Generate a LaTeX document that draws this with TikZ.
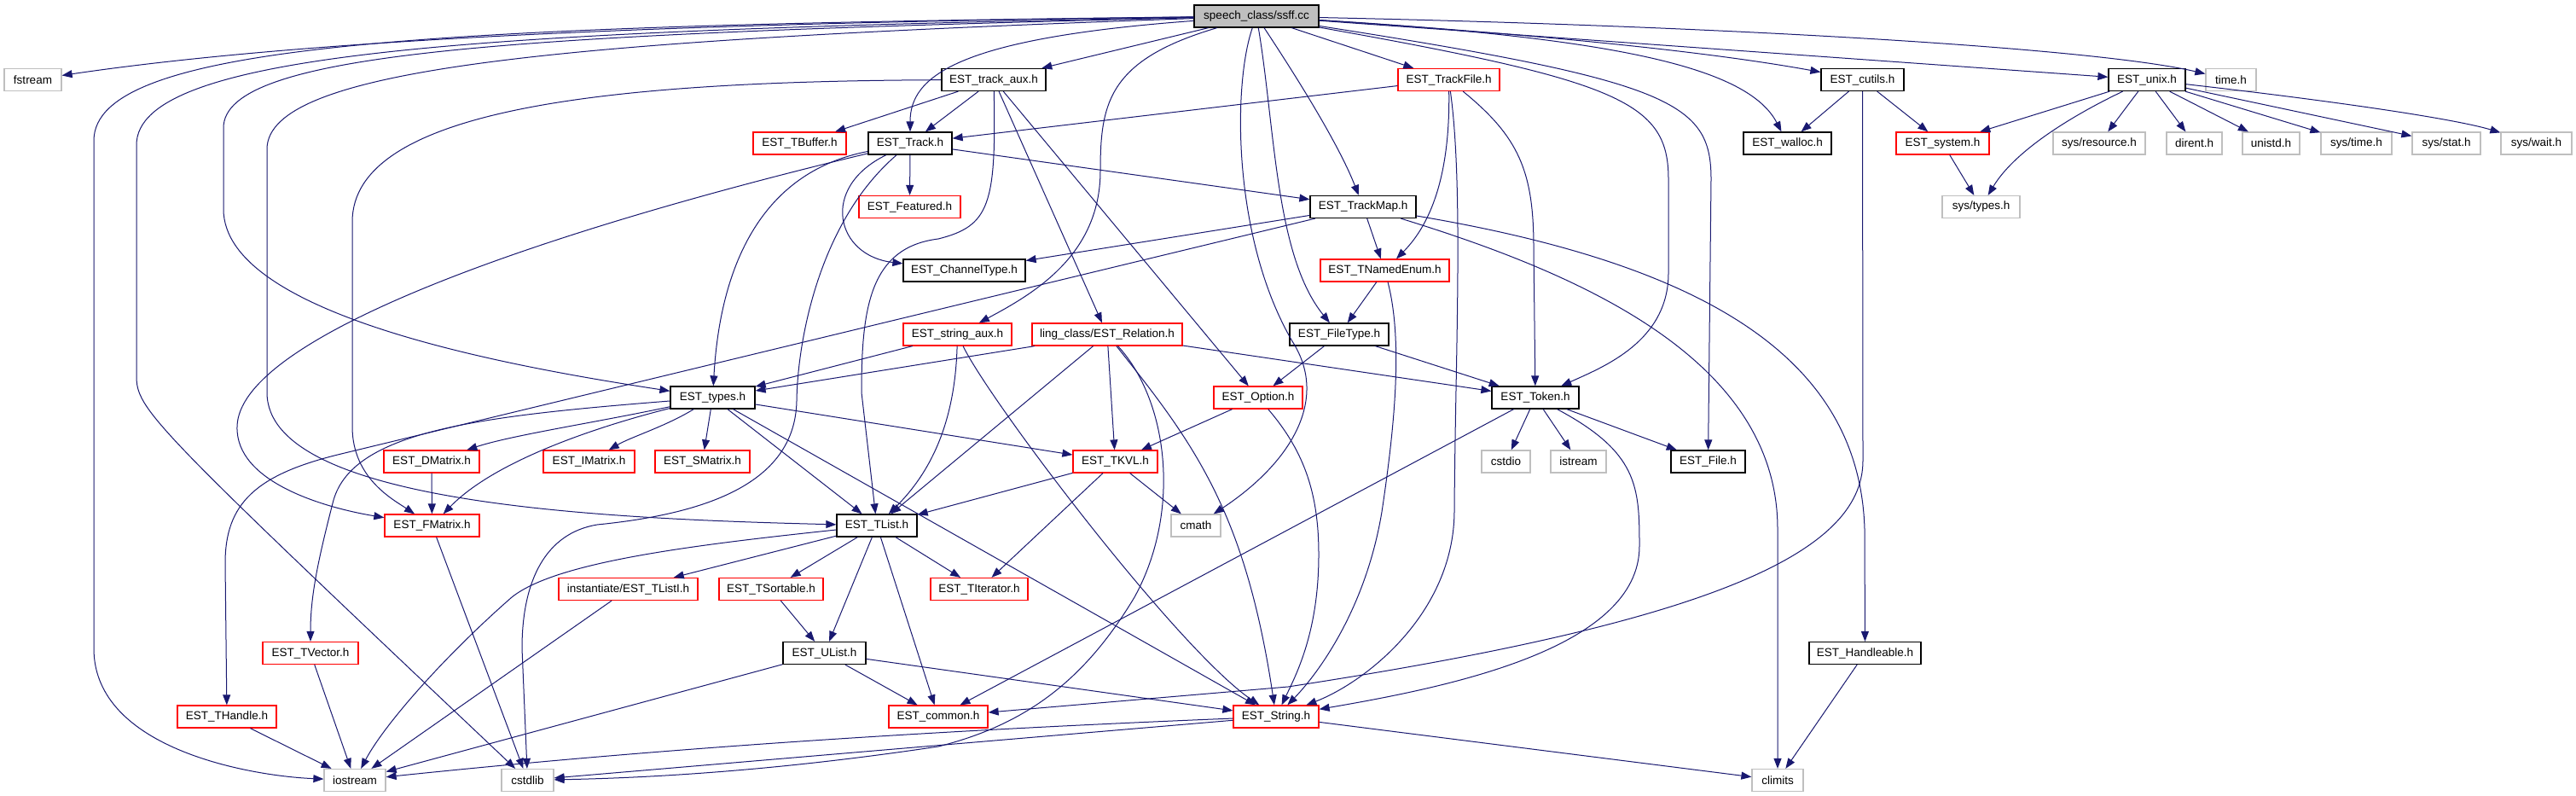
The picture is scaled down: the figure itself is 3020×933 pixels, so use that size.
\documentclass[tikz,border=0pt]{standalone}
\usepackage{fontspec}
\setmainfont{Liberation Sans}
\usetikzlibrary{arrows.meta}
\definecolor{edgec}{HTML}{191970}
\definecolor{grayb}{HTML}{BFBFBF}
\tikzset{
  nb/.style={rectangle, minimum height=26pt, inner sep=0pt, line width=1.25pt, font=\fontsize{13.5}{16}\selectfont, text=black},
  blk/.style={nb, draw=black},
  rnd/.style={nb, draw=red},
  gry/.style={nb, draw=grayb},
  rootn/.style={nb, draw=black, fill=grayb},
  ed/.style={draw=edgec, line width=1pt, -{Triangle[length=12pt,width=9pt]}},
}
\begin{document}
\begin{tikzpicture}[x=1pt,y=-1pt]
\useasboundingbox (0,0) rectangle (3020,933);
\fill[white] (0,0) rectangle (3020,933);
% row 0
\node[rootn, minimum width=146pt] (root) at (1473,19) {speech\_class/ssff.cc};
% row 1
\node[gry, minimum width=67pt] (fstream) at (38.5,93.5) {fstream};
\node[blk, minimum width=122pt] (trackaux) at (1165,93.5) {EST\_track\_aux.h};
\node[rnd, minimum width=119pt] (trackfile) at (1698.5,93.5) {EST\_TrackFile.h};
\node[blk, minimum width=97pt] (cutils) at (2183.5,93.5) {EST\_cutils.h};
\node[blk, minimum width=90pt] (unix) at (2517,93.5) {EST\_unix.h};
\node[gry, minimum width=59pt] (timeh) at (2615.5,93.5) {time.h};
% row 2
\node[rnd, minimum width=109pt] (tbuffer) at (937.5,168) {EST\_TBuffer.h};
\node[blk, minimum width=98pt] (track) at (1067,168) {EST\_Track.h};
\node[blk, minimum width=103pt] (walloc) at (2095.5,168) {EST\_walloc.h};
\node[rnd, minimum width=109pt] (system) at (2277.5,168) {EST\_system.h};
\node[gry, minimum width=108pt] (sysres) at (2461,168) {sys/resource.h};
\node[gry, minimum width=65pt] (dirent) at (2572.5,168) {dirent.h};
\node[gry, minimum width=67pt] (unistd) at (2662.5,168) {unistd.h};
\node[gry, minimum width=83pt] (systime) at (2762.5,168) {sys/time.h};
\node[gry, minimum width=80pt] (sysstat) at (2868,168) {sys/stat.h};
\node[gry, minimum width=83pt] (syswait) at (2973.5,168) {sys/wait.h};
% row 3
\node[rnd, minimum width=119pt] (featured) at (1066.5,242.5) {EST\_Featured.h};
\node[blk, minimum width=124pt] (trackmap) at (1598,242.5) {EST\_TrackMap.h};
\node[gry, minimum width=91pt] (systypes) at (2322.5,242.5) {sys/types.h};
% row 4
\node[blk, minimum width=143pt] (channel) at (1130.5,317) {EST\_ChannelType.h};
\node[rnd, minimum width=151pt] (namedenum) at (1623.5,317) {EST\_TNamedEnum.h};
% row 5
\node[rnd, minimum width=127pt] (straux) at (1122.5,392) {EST\_string\_aux.h};
\node[rnd, minimum width=176pt] (relation) at (1298,392) {ling\_class/EST\_Relation.h};
\node[blk, minimum width=116pt] (filetype) at (1570,392) {EST\_FileType.h};
% row 6
\node[blk, minimum width=99pt] (types) at (835.5,466) {EST\_types.h};
\node[rnd, minimum width=104pt] (option) at (1475,466) {EST\_Option.h};
\node[blk, minimum width=102pt] (token) at (1800,466) {EST\_Token.h};
% row 7
\node[rnd, minimum width=112pt] (dmatrix) at (506,541) {EST\_DMatrix.h};
\node[rnd, minimum width=107pt] (imatrix) at (690.5,541) {EST\_IMatrix.h};
\node[rnd, minimum width=111pt] (smatrix) at (823.5,541) {EST\_SMatrix.h};
\node[rnd, minimum width=99pt] (tkvl) at (1307.5,541) {EST\_TKVL.h};
\node[gry, minimum width=57pt] (cstdio) at (1765.5,541) {cstdio};
\node[gry, minimum width=65pt] (istream) at (1850.5,541) {istream};
\node[blk, minimum width=87pt] (estfile) at (2002.5,541) {EST\_File.h};
% row 8
\node[rnd, minimum width=111pt] (fmatrix) at (506.5,616) {EST\_FMatrix.h};
\node[blk, minimum width=94pt] (tlist) at (1028,616) {EST\_TList.h};
\node[gry, minimum width=58pt] (cmath) at (1402,616) {cmath};
% row 9
\node[rnd, minimum width=163pt] (tlisti) at (736.5,690.5) {instantiate/EST\_TListI.h};
\node[rnd, minimum width=122pt] (tsortable) at (904,690.5) {EST\_TSortable.h};
\node[rnd, minimum width=114pt] (titerator) at (1148,690.5) {EST\_TIterator.h};
% row 10
\node[rnd, minimum width=112pt] (tvector) at (364,765.5) {EST\_TVector.h};
\node[blk, minimum width=97pt] (ulist) at (966.5,765.5) {EST\_UList.h};
\node[blk, minimum width=131pt] (handleable) at (2186.5,765.5) {EST\_Handleable.h};
% row 11
\node[rnd, minimum width=116pt] (thandle) at (266,840) {EST\_THandle.h};
\node[rnd, minimum width=116pt] (common) at (1100,840) {EST\_common.h};
\node[rnd, minimum width=100pt] (string) at (1496,840) {EST\_String.h};
% row 12
\node[gry, minimum width=72pt] (iostream) at (416,914.5) {iostream};
\node[gry, minimum width=61pt] (cstdlib) at (618.5,914.5) {cstdlib};
\node[gry, minimum width=60pt] (climits) at (2084,914.5) {climits};

% ---- edges from root
\draw[ed] (root) .. controls (900,26) and (400,40) .. (fstream);
\draw[ed] (root) .. controls (500,30) and (110,50) .. (110,165) -- (110,760) .. controls (110,880) and (300,910) .. (iostream);
\draw[ed] (root) .. controls (560,36) and (160,60) .. (160,170) -- (160,440) .. controls (160,480) and (175,495) .. (cstdlib);
\draw[ed] (root) .. controls (600,40) and (262,60) .. (262,150) -- (262,245) .. controls (262,370) and (600,430) .. (types);
\draw[ed] (root) .. controls (650,48) and (313,80) .. (313,175) -- (313,460) .. controls (313,590) and (700,608) .. (tlist);
\draw[ed] (root) -- (trackaux);
\draw[ed] (root) .. controls (1120,45) and (1067,90) .. (track);
\draw[ed] (root) .. controls (1300,70) and (1290,120) .. (1290,200) .. controls (1290,300) and (1210,345) .. (straux);
\draw[ed] (root) .. controls (1445,100) and (1445,280) .. (1515,400) .. controls (1560,470) and (1510,545) .. (cmath);
\draw[ed] (root) .. controls (1520,90) and (1570,170) .. (trackmap);
\draw[ed] (root) .. controls (1495,150) and (1495,300) .. (filetype);
\draw[ed] (root) -- (trackfile);
\draw[ed] (root) .. controls (1900,95) and (1956,120) .. (1956,210) -- (1956,320) .. controls (1956,400) and (1880,430) .. (token);
\draw[ed] (root) .. controls (1960,95) and (2006,120) .. (2006,210) -- (estfile);
\draw[ed] (root) .. controls (1900,45) and (2050,80) .. (walloc);
\draw[ed] (root) .. controls (1800,40) and (2000,60) .. (cutils);
\draw[ed] (root) -- (unix);
\draw[ed] (root) .. controls (2000,30) and (2450,55) .. (timeh);
% ---- track_aux
\draw[ed] (trackaux) -- (tbuffer);
\draw[ed] (trackaux) -- (track);
\draw[ed] (trackaux) .. controls (700,95) and (413,130) .. (413,260) -- (413,500) .. controls (413,560) and (460,585) .. (fmatrix);
\draw[ed] (trackaux) .. controls (1168,240) and (1160,265) .. (1100,280) .. controls (1020,290) and (1010,360) .. (1010,460) -- (tlist);
\draw[ed] (trackaux) -- (relation);
\draw[ed] (trackaux) -- (option);
% ---- track
\draw[ed] (track) -- (featured);
\draw[ed] (track) .. controls (960,220) and (980,300) .. (channel);
\draw[ed] (track) .. controls (900,200) and (845,300) .. (types);
\draw[ed] (track) .. controls (600,280) and (280,400) .. (278,500) .. controls (276,565) and (380,595) .. (fmatrix);
\draw[ed] (track) .. controls (960,260) and (935,400) .. (934,470) .. controls (932,570) and (820,603) .. (700,615) .. controls (640,625) and (612,680) .. (612,760) -- (cstdlib);
\draw[ed] (track) -- (trackmap);
% ---- trackfile
\draw[ed] (trackfile) -- (track);
\draw[ed] (trackfile) .. controls (1700,200) and (1680,260) .. (namedenum);
\draw[ed] (trackfile) .. controls (1716,220) and (1706,420) .. (1705,600) .. controls (1704,720) and (1600,800) .. (string);
\draw[ed] (trackfile) .. controls (1780,160) and (1798,200) .. (1798,290) -- (token);
% ---- cutils
\draw[ed] (cutils) -- (walloc);
\draw[ed] (cutils) -- (system);
\draw[ed] (cutils) -- (2184,540) .. controls (2184,650) and (2000,730) .. (1510,805) -- (common);
% ---- unix
\draw[ed] (unix) -- (system);
\draw[ed] (unix) .. controls (2420,140) and (2360,180) .. (systypes);
\draw[ed] (unix) -- (sysres);
\draw[ed] (unix) -- (dirent);
\draw[ed] (unix) -- (unistd);
\draw[ed] (unix) -- (systime);
\draw[ed] (unix) -- (sysstat);
\draw[ed] (unix) .. controls (2750,120) and (2880,140) .. (syswait);
\draw[ed] (system) -- (systypes);
% ---- trackmap
\draw[ed] (trackmap) -- (channel);
\draw[ed] (trackmap) -- (400,532) .. controls (300,556) and (264,590) .. (264,660) -- (thandle);
\draw[ed] (trackmap) -- (namedenum);
\draw[ed] (trackmap) .. controls (1850,320) and (2084,420) .. (2084,620) -- (climits);
\draw[ed] (trackmap) .. controls (2000,310) and (2180,420) .. (2186,620) -- (handleable);
% ---- namedenum
\draw[ed] (namedenum) -- (filetype);
\draw[ed] (namedenum) .. controls (1645,400) and (1635,500) .. (1620,600) .. controls (1600,720) and (1540,795) .. (string);
% ---- filetype
\draw[ed] (filetype) -- (token);
\draw[ed] (filetype) -- (option);
% ---- string_aux
\draw[ed] (straux) -- (types);
\draw[ed] (straux) .. controls (1120,480) and (1100,545) .. (tlist);
\draw[ed] (straux) .. controls (1160,470) and (1380,760) .. (string);
% ---- relation
\draw[ed] (relation) -- (types);
\draw[ed] (relation) -- (tlist);
\draw[ed] (relation) -- (tkvl);
\draw[ed] (relation) .. controls (1370,470) and (1385,600) .. (1330,700) .. controls (1270,800) and (1200,850) .. (1100,875) .. controls (900,905) and (750,912) .. (cstdlib);
\draw[ed] (relation) .. controls (1400,520) and (1460,600) .. (string);
\draw[ed] (relation) -- (token);
% ---- option
\draw[ed] (option) -- (tkvl);
\draw[ed] (option) .. controls (1530,530) and (1546,580) .. (1546,650) .. controls (1546,740) and (1520,790) .. (string);
% ---- types
\draw[ed] (types) -- (smatrix);
\draw[ed] (types) -- (tlist);
\draw[ed] (types) -- (string);
\draw[ed] (types) -- (tkvl);
\draw[ed] (types) .. controls (700,495) and (600,510) .. (dmatrix);
\draw[ed] (types) .. controls (780,500) and (740,512) .. (imatrix);
\draw[ed] (types) .. controls (700,500) and (580,540) .. (fmatrix);
\draw[ed] (types) .. controls (560,488) and (410,505) .. (390,590) .. controls (372,660) and (364,700) .. (tvector);
% ---- matrices
\draw[ed] (dmatrix) -- (fmatrix);
\draw[ed] (fmatrix) -- (cstdlib);
% ---- tkvl
\draw[ed] (tkvl) -- (tlist);
\draw[ed] (tkvl) -- (titerator);
\draw[ed] (tkvl) -- (cmath);
% ---- tlist
\draw[ed] (tlist) -- (tlisti);
\draw[ed] (tlist) -- (tsortable);
\draw[ed] (tlist) -- (ulist);
\draw[ed] (tlist) -- (common);
\draw[ed] (tlist) -- (titerator);
\draw[ed] (tlist) .. controls (800,640) and (650,660) .. (600,700) .. controls (520,770) and (450,850) .. (iostream);
\draw[ed] (tlisti) -- (iostream);
\draw[ed] (tsortable) -- (ulist);
% ---- ulist
\draw[ed] (ulist) -- (common);
\draw[ed] (ulist) -- (string);
\draw[ed] (ulist) -- (iostream);
% ---- string
\draw[ed] (string) .. controls (1000,860) and (700,885) .. (iostream);
\draw[ed] (string) -- (cstdlib);
\draw[ed] (string) -- (climits);
% ---- token
\draw[ed] (token) -- (cstdio);
\draw[ed] (token) -- (istream);
\draw[ed] (token) -- (estfile);
\draw[ed] (token) .. controls (1920,530) and (1922,570) .. (1922,640) .. controls (1922,760) and (1700,805) .. (string);
\draw[ed] (token) -- (common);
% ---- others
\draw[ed] (handleable) -- (climits);
\draw[ed] (thandle) -- (iostream);
\draw[ed] (tvector) -- (iostream);
\end{tikzpicture}
\end{document}
